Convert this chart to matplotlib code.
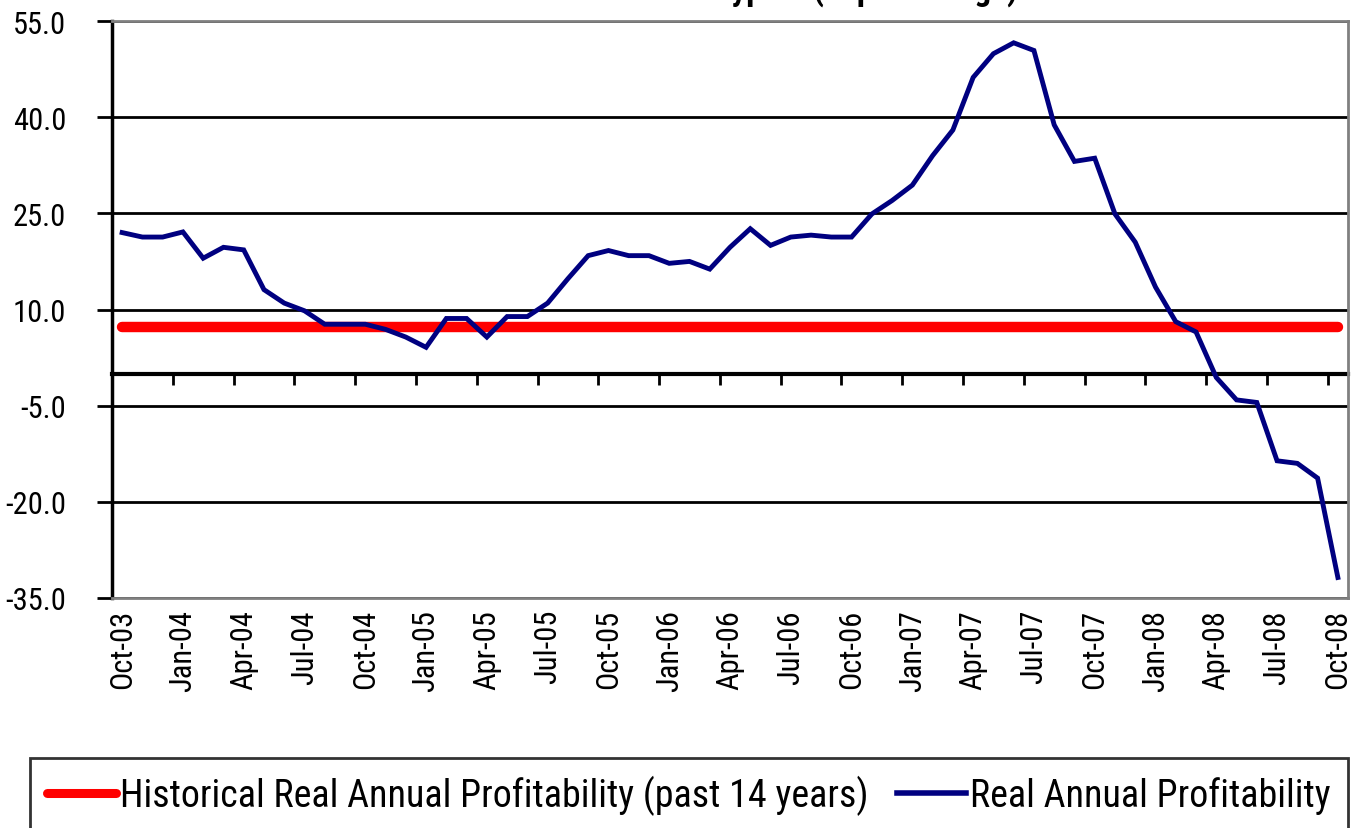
import numpy as np
import matplotlib
matplotlib.use("Agg")
import matplotlib.pyplot as plt

plt.rcParams['font.family'] = ['Roboto Condensed', 'PT Sans Narrow', 'DejaVu Sans']
plt.rcParams['axes.unicode_minus'] = False

# monthly values, Oct-03 .. Oct-08
month_labels = ["Oct-03", "Jan-04", "Apr-04", "Jul-04", "Oct-04", "Jan-05", "Apr-05",
                "Jul-05", "Oct-05", "Jan-06", "Apr-06", "Jul-06", "Oct-06", "Jan-07",
                "Apr-07", "Jul-07", "Oct-07", "Jan-08", "Apr-08", "Jul-08", "Oct-08"]

real_profit = [22.0, 21.3, 21.3, 22.1, 18.0, 19.7, 19.3, 13.1, 11.0, 9.8,
               7.7, 7.7, 7.7, 6.9, 5.7, 4.1, 8.6, 8.6, 5.7, 8.9,
               8.9, 11.0, 14.8, 18.4, 19.2, 18.4, 18.4, 17.2, 17.5, 16.3,
               19.7, 22.6, 20.0, 21.3, 21.6, 21.3, 21.3, 24.9, 27.0, 29.4,
               34.0, 38.0, 46.2, 49.9, 51.6, 50.4, 38.8, 33.1, 33.6, 24.9,
               20.5, 13.5, 8.1, 6.5, -0.6, -4.1, -4.5, -13.6, -14.0, -16.3, -31.8]

hist_value = 7.2
hist_profit = [hist_value] * len(real_profit)

y_ticks = [-35, -20, -5, 10, 25, 40, 55]

x = np.arange(len(real_profit))

fig = plt.figure(figsize=(13.53, 8.29), dpi=100)
ax = fig.add_axes([112 / 1353, 1 - 599 / 829, 1236 / 1353, 577 / 829])

ax.plot(x, hist_profit, color='#ff0000', lw=7.5, solid_capstyle='round',
        label='Historical Real Annual Profitability (past 14 years)', zorder=3)
ax.plot(x, real_profit, color='#000080', lw=3.5, solid_joinstyle='miter',
        label='Real Annual Profitability', zorder=4)

ax.set_xlim(-0.5, len(real_profit) - 0.5)
ax.set_ylim(-35, 55)
ax.set_yticks(y_ticks)
ax.yaxis.set_major_formatter('{x:.1f}')
ax.grid(axis='y', color='black', lw=2)
ax.set_axisbelow(True)

ax.set_xticks(x[::3])
ax.set_xticklabels(month_labels, rotation=90, fontsize=22)
ax.tick_params(axis='x', length=0, pad=8)
ax.tick_params(axis='y', length=11, width=2, labelsize=22, pad=22, color='black')

for side in ['top', 'right', 'bottom']:
    ax.spines[side].set_color('#808080')
    ax.spines[side].set_linewidth(2)
ax.spines['left'].set_color('black')
ax.spines['left'].set_linewidth(2.5)

# category axis crosses at zero
zero_axis = ax.secondary_xaxis(35 / 90)
zero_axis.set_xticks(np.arange(2.5, len(real_profit) - 1, 3))
zero_axis.tick_params(length=8, width=2, direction='out', labelbottom=False, color='black')
zero_axis.spines['bottom'].set_linewidth(3)
zero_axis.spines['bottom'].set_color('black')

# title is cut off at the top of the image, only descenders show
fig.text(1018 / 1353, 1.0, 'Provident Funds in Cyprus (in percentage)',
         ha='right', va='baseline', fontsize=24, fontweight='bold')

leg = fig.legend(loc='upper left', bbox_to_anchor=(30 / 1353, 1 - 759 / 829),
                 ncol=2, fontsize=27.4, frameon=True, fancybox=False,
                 handlelength=1.8, handletextpad=0.12, columnspacing=0.75,
                 borderpad=0.45, borderaxespad=0)
leg.get_frame().set_edgecolor('black')
leg.get_frame().set_linewidth(2)
red_sample, blue_sample = leg.get_lines()
red_sample.set_linewidth(6.5)
blue_sample.set_linewidth(4)

fig.savefig('out.png', dpi=100)
